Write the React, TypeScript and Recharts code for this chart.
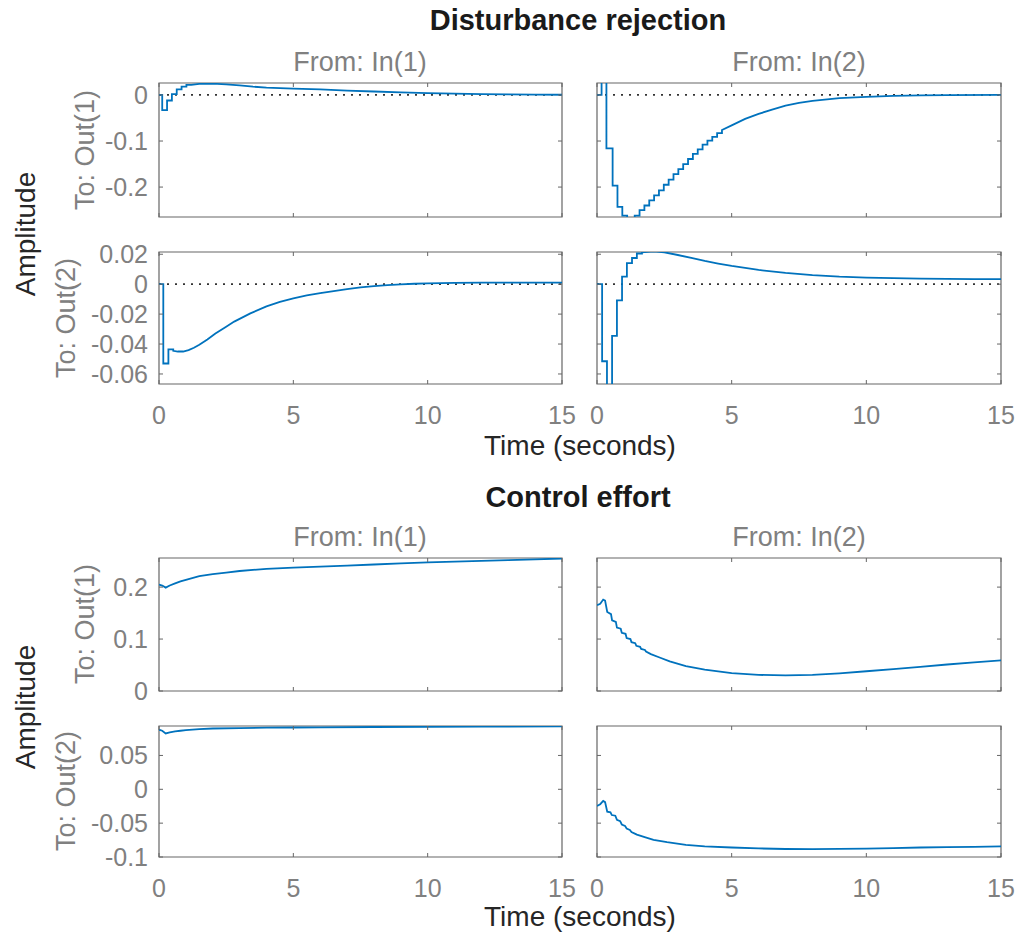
import React from 'react';
import {
  LineChart,
  Line,
  XAxis,
  YAxis,
  ReferenceLine,
  ReferenceArea,
} from 'recharts';

const FONT = '"Liberation Sans", Arial, Helvetica, sans-serif';
const LINE_COLOR = '#0072BD';
const BOX_COLOR = '#666666';
const TICK_TEXT = '#808080';

const timeTicks = [0, 5, 10, 15];
const distOut1Ticks = [-0.2, -0.1, 0];
const distOut2Ticks = [-0.06, -0.04, -0.02, 0, 0.02];
const effortOut1Ticks = [0, 0.1, 0.2];
const effortOut2Ticks = [-0.1, -0.05, 0, 0.05];

// [time, amplitude] pairs
const distIn1Out1 = [
  [0, 0], [0.12, 0], [0.12, -0.033], [0.3, -0.033], [0.3, -0.012], [0.48, -0.012],
  [0.48, 0.002], [0.66, 0.002], [0.66, 0.012], [0.84, 0.012], [0.84, 0.018], [1.02, 0.018],
  [1.02, 0.022], [1.2, 0.022], [1.5, 0.024], [2, 0.0245], [2.5, 0.023], [3, 0.021],
  [3.5, 0.018], [4, 0.016], [5, 0.014], [6, 0.012], [7, 0.0095], [8, 0.0075], [9, 0.0055],
  [10, 0.004], [11, 0.003], [12, 0.002], [13, 0.0013], [14, 0.0008], [15, 0.0005],
];

const distIn2Out1 = [
  [0, 0], [0.17, 0], [0.17, 0.028], [0.35, 0.028], [0.35, -0.116], [0.58, -0.116],
  [0.58, -0.197], [0.76, -0.197], [0.76, -0.243], [0.94, -0.243], [0.94, -0.262], [1.12, -0.262],
  [1.12, -0.268], [1.4, -0.268], [1.4, -0.262], [1.58, -0.262], [1.58, -0.25], [1.76, -0.25],
  [1.76, -0.24], [1.94, -0.24], [1.94, -0.229], [2.12, -0.229], [2.12, -0.218], [2.3, -0.218],
  [2.3, -0.207], [2.48, -0.207], [2.48, -0.195], [2.66, -0.195], [2.66, -0.184], [2.84, -0.184],
  [2.84, -0.172], [3.02, -0.172], [3.02, -0.161], [3.2, -0.161], [3.2, -0.15], [3.38, -0.15],
  [3.38, -0.139], [3.56, -0.139], [3.56, -0.128], [3.74, -0.128], [3.74, -0.118], [3.92, -0.118],
  [3.92, -0.108], [4.1, -0.108], [4.1, -0.099], [4.28, -0.099], [4.28, -0.091], [4.46, -0.091],
  [4.46, -0.083], [4.64, -0.083], [4.64, -0.076], [5, -0.066], [5.5, -0.052], [6, -0.041],
  [6.5, -0.032], [7, -0.023], [7.5, -0.017], [8, -0.013], [9, -0.007], [10, -0.004],
  [11, -0.002], [12, -0.001], [13, -0.0005], [15, 0],
];

const distIn1Out2 = [
  [0, 0], [0.16, 0], [0.16, -0.053], [0.35, -0.053], [0.35, -0.0435], [0.53, -0.0435],
  [0.53, -0.0445], [0.7, -0.045], [0.9, -0.045], [1.1, -0.044], [1.3, -0.0425], [1.5, -0.0405],
  [1.8, -0.037], [2.1, -0.033], [2.5, -0.0285], [2.8, -0.025], [3.4, -0.0195], [4, -0.0148],
  [4.5, -0.0118], [5, -0.0095], [5.5, -0.0075], [6, -0.006], [6.5, -0.0046], [7, -0.0033],
  [7.5, -0.0022], [8, -0.0013], [8.5, -0.0006], [9, -0.0001], [9.5, 0.0003], [10, 0.0006],
  [11, 0.0009], [12, 0.001], [13, 0.001], [14, 0.001], [15, 0.001],
];

const distIn2Out2 = [
  [0, 0], [0.19, 0], [0.19, -0.0515], [0.37, -0.0515], [0.37, -0.07], [0.56, -0.07],
  [0.56, -0.0345], [0.74, -0.0345], [0.74, -0.0108], [0.93, -0.0108], [0.93, 0.005], [1.11, 0.005],
  [1.11, 0.014], [1.3, 0.014], [1.3, 0.0175], [1.48, 0.0175], [1.48, 0.0205], [1.67, 0.0205],
  [1.67, 0.0213], [2.1, 0.022], [2.5, 0.0213], [3, 0.0195], [3.5, 0.0175], [4, 0.0155],
  [4.5, 0.0138], [5, 0.0122], [6, 0.0095], [7, 0.0075], [8, 0.006], [9, 0.005],
  [10, 0.0044], [11, 0.004], [12, 0.0037], [13, 0.0035], [14, 0.0034], [15, 0.0034],
];

const effortIn1Out1 = [
  [0, 0.205], [0.12, 0.203], [0.25, 0.199], [0.4, 0.203], [0.6, 0.207], [0.8, 0.211],
  [1, 0.214], [1.5, 0.221], [2, 0.225], [2.5, 0.228], [3, 0.231], [4, 0.235],
  [5, 0.2375], [6, 0.2395], [7, 0.2415], [8, 0.2435], [9, 0.2455], [10, 0.2475],
  [11, 0.249], [12, 0.2505], [13, 0.252], [14, 0.2535], [15, 0.255],
];

const effortIn2Out1 = [
  [0, 0.165], [0.12, 0.168], [0.23, 0.176], [0.3, 0.174], [0.38, 0.152], [0.52, 0.148],
  [0.56, 0.136], [0.7, 0.133], [0.74, 0.122], [0.88, 0.12], [0.92, 0.112], [1.06, 0.11],
  [1.1, 0.102], [1.24, 0.1], [1.28, 0.094], [1.42, 0.092], [1.46, 0.087], [1.6, 0.085],
  [1.64, 0.081], [1.78, 0.079], [1.82, 0.076], [2, 0.071], [2.3, 0.065], [2.7, 0.057],
  [3.3, 0.048], [4, 0.041], [5, 0.0345], [6, 0.031], [7, 0.03], [8, 0.031],
  [9, 0.034], [10, 0.038], [11, 0.042], [12, 0.0465], [13, 0.051], [14, 0.055], [15, 0.059],
];

const effortIn1Out2 = [
  [0, 0.088], [0.12, 0.0865], [0.25, 0.0825], [0.4, 0.084], [0.6, 0.0855], [0.8, 0.0865],
  [1, 0.0875], [1.5, 0.089], [2, 0.0898], [3, 0.0905], [4, 0.091], [5, 0.0913],
  [6, 0.0916], [8, 0.092], [10, 0.0923], [12, 0.0926], [15, 0.093],
];

const effortIn2Out2 = [
  [0, -0.0246], [0.12, -0.022], [0.23, -0.0172], [0.3, -0.019], [0.38, -0.033], [0.5, -0.034],
  [0.55, -0.038], [0.68, -0.039], [0.74, -0.045], [0.86, -0.047], [0.92, -0.052], [1.04, -0.054],
  [1.1, -0.058], [1.22, -0.06], [1.28, -0.063], [1.48, -0.067], [1.8, -0.071], [2.1, -0.0746],
  [2.6, -0.078], [3.3, -0.082], [4, -0.0843], [5, -0.086], [6, -0.0873], [7, -0.0882],
  [8, -0.0883], [9, -0.088], [10, -0.0875], [11, -0.087], [12, -0.086], [13, -0.0855],
  [14, -0.085], [15, -0.0844],
];

// space around each plot box inside its svg, so tick labels are not clipped
const ML = 75;
const MB = 50;
const MT = 20;
const MR = 25;
const TICK_LEN = 4;
const TICK_FONT = 25;

function XTick(props: any) {
  const { x, y, payload, plotH, show } = props;
  return (
    <g>
      <line x1={x} x2={x} y1={y} y2={y - TICK_LEN} stroke={BOX_COLOR} />
      <line x1={x} x2={x} y1={y - plotH} y2={y - plotH + TICK_LEN} stroke={BOX_COLOR} />
      {show && (
        <text
          x={x}
          y={y + 31}
          textAnchor="middle"
          dominantBaseline="central"
          fill={TICK_TEXT}
          fontSize={TICK_FONT}
          fontFamily={FONT}
        >
          {String(payload.value)}
        </text>
      )}
    </g>
  );
}

function YTick(props: any) {
  const { x, y, payload, plotW, show } = props;
  return (
    <g>
      <line x1={x} x2={x + TICK_LEN} y1={y} y2={y} stroke={BOX_COLOR} />
      <line x1={x + plotW} x2={x + plotW - TICK_LEN} y1={y} y2={y} stroke={BOX_COLOR} />
      {show && (
        <text
          x={x - 11}
          y={y}
          textAnchor="end"
          dominantBaseline="central"
          fill={TICK_TEXT}
          fontSize={TICK_FONT}
          fontFamily={FONT}
        >
          {String(payload.value)}
        </text>
      )}
    </g>
  );
}

type PanelProps = {
  series: number[][];
  left: number;
  top: number;
  w: number;
  h: number;
  yDomain: [number, number];
  yTicks: number[];
  showX: boolean;
  showY: boolean;
  zeroLine: boolean;
};

function Panel({ series, left, top, w, h, yDomain, yTicks, showX, showY, zeroLine }: PanelProps) {
  const rows = series.map(([t, v]) => ({ t, v }));
  return (
    <div style={{ position: 'absolute', left: left - ML, top: top - MT }}>
      <LineChart
        width={w + ML + MR}
        height={h + MT + MB}
        data={rows}
        margin={{ top: MT, right: MR, bottom: 0, left: 0 }}
      >
        <XAxis
          dataKey="t"
          type="number"
          domain={[0, 15]}
          ticks={timeTicks}
          interval={0}
          allowDataOverflow
          height={MB}
          tickSize={0}
          tickMargin={0}
          axisLine={false}
          tickLine={false}
          tick={(p: any) => <XTick {...p} plotH={h} show={showX} />}
        />
        <YAxis
          type="number"
          domain={yDomain}
          ticks={yTicks}
          interval={0}
          allowDataOverflow
          width={ML}
          tickSize={0}
          tickMargin={0}
          axisLine={false}
          tickLine={false}
          tick={(p: any) => <YTick {...p} plotW={w} show={showY} />}
        />
        <ReferenceArea
          x1={0}
          x2={15}
          y1={yDomain[0]}
          y2={yDomain[1]}
          fill="none"
          stroke={BOX_COLOR}
          strokeWidth={1.2}
          ifOverflow="visible"
        />
        {zeroLine && (
          <ReferenceLine y={0} stroke="#333333" strokeWidth={1.8} strokeDasharray="2 6" />
        )}
        <Line
          dataKey="v"
          type="linear"
          stroke={LINE_COLOR}
          strokeWidth={1.8}
          dot={false}
          isAnimationActive={false}
        />
      </LineChart>
    </div>
  );
}

function TextAt({
  x,
  y,
  children,
  size,
  color,
  bold,
  rotate,
}: {
  x: number;
  y: number;
  children: React.ReactNode;
  size: number;
  color: string;
  bold?: boolean;
  rotate?: boolean;
}) {
  return (
    <div
      style={{
        position: 'absolute',
        left: x,
        top: y,
        transform: `translate(-50%, -50%)${rotate ? ' rotate(-90deg)' : ''}`,
        whiteSpace: 'nowrap',
        fontFamily: FONT,
        fontSize: size,
        fontWeight: bold ? 'bold' : 'normal',
        color,
        lineHeight: 1,
      }}
    >
      {children}
    </div>
  );
}

const COL1 = { left: 159, w: 403 };
const COL2 = { left: 597, w: 404 };

export default function App() {
  return (
    <div
      style={{
        position: 'absolute',
        left: 0,
        top: 0,
        width: 1020,
        height: 938,
        background: '#ffffff',
        overflow: 'hidden',
      }}
    >
      <Panel series={distIn1Out1} {...COL1} top={83} h={134} yDomain={[-0.265, 0.026]}
        yTicks={distOut1Ticks} showX={false} showY zeroLine />
      <Panel series={distIn2Out1} {...COL2} top={83} h={134} yDomain={[-0.265, 0.026]}
        yTicks={distOut1Ticks} showX={false} showY={false} zeroLine />
      <Panel series={distIn1Out2} {...COL1} top={252} h={132} yDomain={[-0.0667, 0.0215]}
        yTicks={distOut2Ticks} showX showY zeroLine />
      <Panel series={distIn2Out2} {...COL2} top={252} h={132} yDomain={[-0.0667, 0.0215]}
        yTicks={distOut2Ticks} showX showY={false} zeroLine />

      <Panel series={effortIn1Out1} {...COL1} top={558} h={133} yDomain={[0, 0.256]}
        yTicks={effortOut1Ticks} showX={false} showY zeroLine={false} />
      <Panel series={effortIn2Out1} {...COL2} top={558} h={133} yDomain={[0, 0.256]}
        yTicks={effortOut1Ticks} showX={false} showY={false} zeroLine={false} />
      <Panel series={effortIn1Out2} {...COL1} top={726} h={131} yDomain={[-0.1, 0.0935]}
        yTicks={effortOut2Ticks} showX showY zeroLine={false} />
      <Panel series={effortIn2Out2} {...COL2} top={726} h={131} yDomain={[-0.1, 0.0935]}
        yTicks={effortOut2Ticks} showX showY={false} zeroLine={false} />

      {/* Disturbance rejection */}
      <TextAt x={578} y={20} size={29} color="#1a1a1a" bold>
        Disturbance rejection
      </TextAt>
      <TextAt x={360} y={62} size={27} color={TICK_TEXT}>From: In(1)</TextAt>
      <TextAt x={799} y={62} size={27} color={TICK_TEXT}>From: In(2)</TextAt>
      <TextAt x={85} y={150} size={27} color={TICK_TEXT} rotate>To: Out(1)</TextAt>
      <TextAt x={66} y={318} size={27} color={TICK_TEXT} rotate>To: Out(2)</TextAt>
      <TextAt x={26} y={234} size={28} color="#262626" rotate>Amplitude</TextAt>
      <TextAt x={580} y={446} size={28} color="#262626">Time (seconds)</TextAt>

      {/* Control effort */}
      <TextAt x={578} y={497} size={29} color="#1a1a1a" bold>
        Control effort
      </TextAt>
      <TextAt x={360} y={537} size={27} color={TICK_TEXT}>From: In(1)</TextAt>
      <TextAt x={799} y={537} size={27} color={TICK_TEXT}>From: In(2)</TextAt>
      <TextAt x={85} y={624} size={27} color={TICK_TEXT} rotate>To: Out(1)</TextAt>
      <TextAt x={66} y={791} size={27} color={TICK_TEXT} rotate>To: Out(2)</TextAt>
      <TextAt x={26} y={707} size={28} color="#262626" rotate>Amplitude</TextAt>
      <TextAt x={580} y={917} size={28} color="#262626">Time (seconds)</TextAt>
    </div>
  );
}
